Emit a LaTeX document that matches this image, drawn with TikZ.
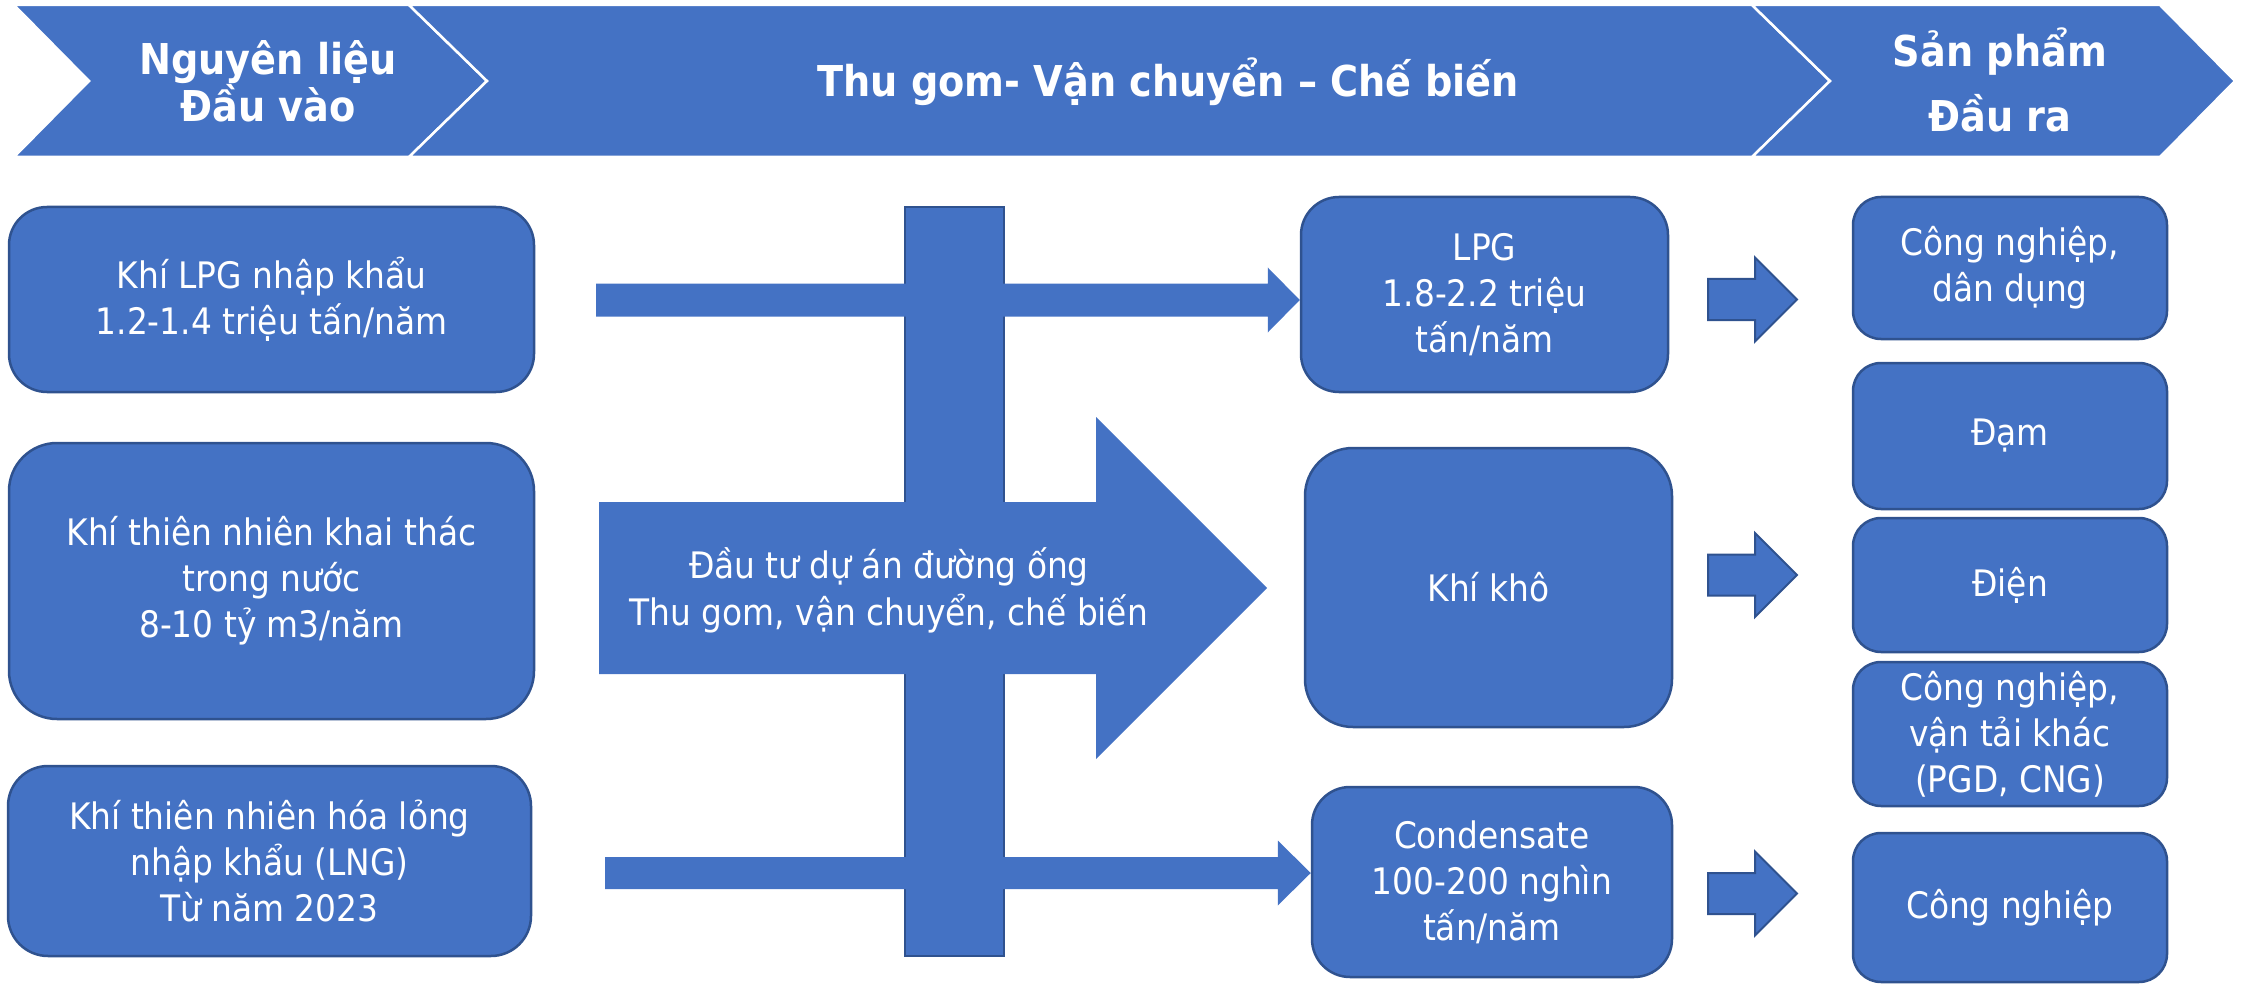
\documentclass[tikz,border=0pt]{standalone}
\usepackage{fontspec}
\setmainfont{DejaVu Sans Condensed}
\usetikzlibrary{calc}
\definecolor{boxblue}{RGB}{68,114,196}
\definecolor{boxedge}{RGB}{47,82,143}
\newcommand\blockarrow[6]{%
  \path[#6] let \p1=(#1), \p2=(#2) in
    (\x1,\y2+#3) -- (\x2-#5,\y2+#3) -- (\x2-#5,\y2+#4) -- (\x2,\y2)
    -- (\x2-#5,\y2-#4) -- (\x2-#5,\y2-#3) -- (\x1,\y2-#3) -- cycle;}
\tikzset{
  chevron/.style={draw=white, line width=2.5pt, fill=boxblue, line join=miter},
  hdrtext/.style={text=white, align=center, inner sep=0pt,
    font=\bfseries\fontsize{42.5}{45}\selectfont},
  box/.style={draw=boxedge, line width=2.5pt, fill=boxblue, text=white,
    align=center, inner sep=2pt, rounded corners=38pt,
    font=\fontsize{36.5}{46}\selectfont},
  rbox/.style={box, rounded corners=28pt, minimum width=314pt},
  bodytext/.style={text=white, align=center, inner sep=0pt,
    font=\fontsize{36.5}{47}\selectfont},
  bararrow/.style={fill=boxblue},
  smallarrow/.style={fill=boxblue, draw=boxedge, line width=2pt, line join=miter},
}
\begin{document}
\begin{tikzpicture}[x=1pt,y=-1pt]
\useasboundingbox (0,0) rectangle (2247,987);

% header chevrons
\draw[chevron] (14,5) -- (409,5) -- (487,81) -- (409,157) -- (14,157) -- (89,81) -- cycle;
\draw[chevron] (409,5) -- (1752,5) -- (1830,81) -- (1752,157) -- (409,157) -- (487,81) -- cycle;
\draw[chevron] (1752,5) -- (2160,5) -- (2235,81) -- (2160,157) -- (1752,157) -- (1830,81) -- cycle;
\node[hdrtext] (h1) at (268,81) {Nguyên liệu\\Đầu vào};
\node[hdrtext] (h2) at (1168,82) {Thu gom- Vận chuyển – Chế biến};
\node[hdrtext, font=\bfseries\fontsize{42.5}{65}\selectfont] (h3) at (2000,80) {Sản phẩm\\Đầu ra};

% left input boxes
\node[box, minimum width=525pt, minimum height=185pt] (l1) at (271.5,299.5)
  {Khí LPG nhập khẩu\\1.2-1.4 triệu tấn/năm};
\node[box, rounded corners=48pt, minimum width=525pt, minimum height=276pt] (l2) at (271.5,581)
  {Khí thiên nhiên khai thác\\trong nước\\8-10 tỷ m3/năm};
\node[box, rounded corners=40pt, minimum width=523pt, minimum height=190pt] (l3) at (269.5,861)
  {Khí thiên nhiên hóa lỏng\\nhập khẩu (LNG)\\Từ năm 2023};

% middle product boxes
\node[box, minimum width=367pt, minimum height=195pt] (lpg) at (1484.5,294.5)
  {LPG\\1.8-2.2 triệu\\tấn/năm};
\node[box, rounded corners=48pt, minimum width=367pt, minimum height=279pt] (kho) at (1488.5,587.5)
  {Khí khô};
\node[box, minimum width=360pt, minimum height=190pt] (cond) at (1492,882)
  {Condensate\\100-200 nghìn\\tấn/năm};

% right output boxes
\node[rbox, minimum height=142pt] (r1) at (2010,268) {Công nghiệp,\\dân dụng};
\node[rbox, minimum height=146pt] (r2) at (2010,436) {Đạm};
\node[rbox, minimum height=134pt] (r3) at (2010,585) {Điện};
\node[rbox, minimum height=144pt] (r4) at (2010,734) {Công nghiệp,\\vận tải khác\\(PGD, CNG)};
\node[rbox, minimum height=149pt] (r5) at (2010,907.5) {Công nghiệp};

% vertical pipeline bar
\node[draw=boxedge, line width=2pt, fill=boxblue, minimum width=99pt,
  minimum height=749pt, inner sep=0pt] (vbar) at (954.5,581.5) {};

% horizontal flow arrows
\coordinate (a1s) at (596,300);
\blockarrow{a1s}{a1s -| lpg.west}{16.5pt}{32.5pt}{32pt}{bararrow}
\coordinate (a3s) at (605,873);
\blockarrow{a3s}{a3s -| cond.west}{16pt}{32.5pt}{33pt}{bararrow}

% big investment arrow
\coordinate (bas) at (599,588);
\coordinate (bae) at (1267,588);
\blockarrow{bas}{bae}{86pt}{171pt}{171pt}{bararrow}
\node[bodytext] (bigtxt) at (889,590) {Đầu tư dự án đường ống\\Thu gom, vận chuyển, chế biến};

% small output arrows
\coordinate (s1s) at (1708,299.5);
\coordinate (s1e) at (1797,299.5);
\blockarrow{s1s}{s1e}{20.5pt}{42pt}{42pt}{smallarrow}
\coordinate (s2s) at (1708,575);
\coordinate (s2e) at (1797,575);
\blockarrow{s2s}{s2e}{20.5pt}{42pt}{42pt}{smallarrow}
\coordinate (s3s) at (1708,893.5);
\coordinate (s3e) at (1797,893.5);
\blockarrow{s3s}{s3e}{20.5pt}{42pt}{42pt}{smallarrow}
\end{tikzpicture}
\end{document}
